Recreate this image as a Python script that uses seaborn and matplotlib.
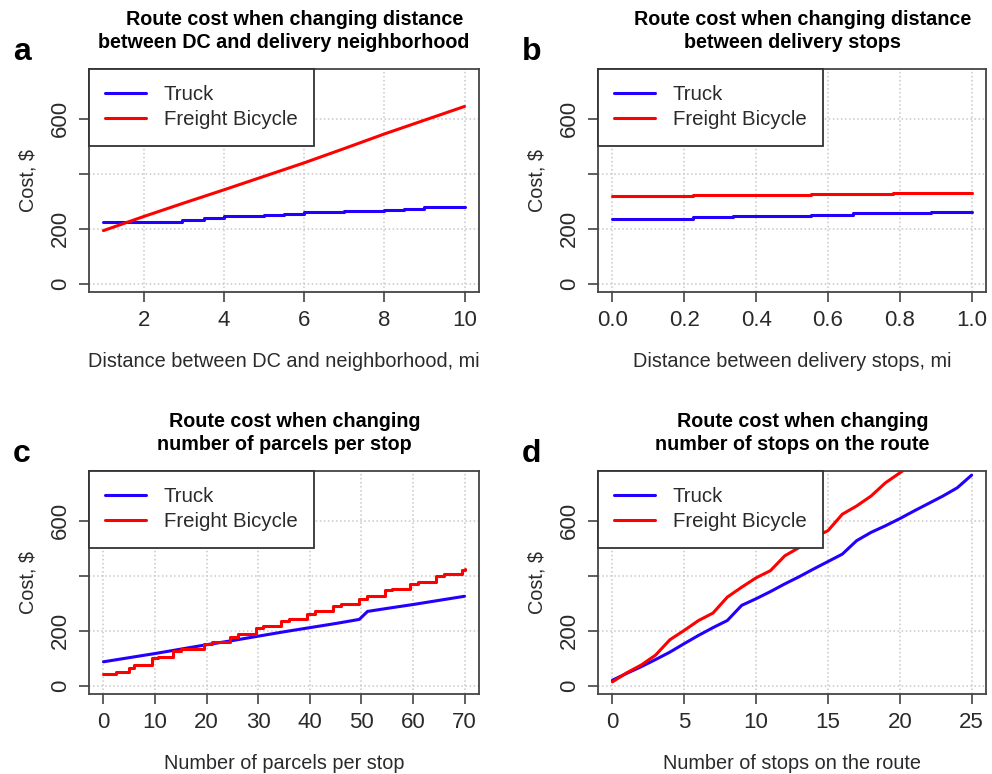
import matplotlib
matplotlib.use('Agg')
import matplotlib.pyplot as plt
import seaborn as sns
import pandas as pd

# a: distance between DC and neighborhood (truck is a staircase)
truck_a_x = [1, 2.97, 3.5, 4.0, 5.0, 5.5, 6.0, 7.0, 8.0, 8.5, 9.0, 10.0]
truck_a_y = [224, 233, 239, 245, 250, 254, 259, 263, 268, 273, 277, 277]
bike_a_x = [1, 2, 3, 4, 5, 6, 7, 8, 9, 10]
bike_a_y = [193, 244, 293, 341, 390, 439, 491, 544, 594, 644]

# b: distance between delivery stops
truck_b_x = [0, 0.224, 0.335, 0.553, 0.669, 0.887, 1.0]
truck_b_y = [235, 241, 247, 251, 256, 259, 259]
bike_b_x = [0, 0.224, 0.553, 0.78, 1.0]
bike_b_y = [318, 324, 327, 331, 331]

# c: number of parcels per stop
truck_c_x = [0, 5, 10, 15, 20, 25, 30, 35, 40, 45, 49.6, 51.2, 55, 60, 65, 70]
truck_c_y = [87, 102, 117, 133, 149, 164, 180, 196, 211, 226, 241, 270, 281, 295, 310, 325]
bike_c_x = [0, 2.5, 5, 6, 9.5, 10.5, 13.5, 15, 19.5, 21, 24.5, 26, 29.5, 31, 34.5,
            36, 39.5, 41, 44.5, 46, 49.5, 51, 54.5, 56, 59.5, 61, 64.5, 66, 69.5, 70]
bike_c_y = [42, 50, 66, 75, 100, 106, 126, 135, 150, 159, 178, 189, 210, 216, 235,
            243, 262, 271, 290, 298, 316, 325, 346, 353, 370, 378, 398, 406, 422, 424]

# d: number of stops on the route
stops = list(range(26))
truck_d = [20, 45, 69, 95, 122, 153, 183, 211, 237, 292, 316, 342, 370, 396, 424,
           451, 478, 527, 557, 581, 607, 635, 662, 689, 719, 765]
bike_stops = list(range(22))
bike_d = [14, 47, 75, 111, 167, 201, 237, 264, 322, 358, 392, 418, 472, 502, 539,
          563, 623, 653, 689, 737, 773, 810]

sns.set_theme(style='white')
plt.rcParams['font.family'] = ['Liberation Sans', 'DejaVu Sans']

TRUCK = '#2200ff'
BIKE = '#ff0000'
TXT = '#2a2a2a'

fig = plt.figure(figsize=(9.92, 7.74), dpi=100)

panels = [
    dict(letter='a', rect=[89, 69, 479, 292],
         title='    Route cost when changing distance\nbetween DC and delivery neighborhood',
         xlabel='Distance between DC and neighborhood, mi',
         xlim=(0.64, 10.36), xticks=[2, 4, 6, 8, 10], xtl=['2', '4', '6', '8', '10'],
         truck=(truck_a_x, truck_a_y, 'steps-post'), bike=(bike_a_x, bike_a_y, 'default')),
    dict(letter='b', rect=[598, 69, 986, 292],
         title='    Route cost when changing distance\nbetween delivery stops',
         xlabel='Distance between delivery stops, mi',
         xlim=(-0.04, 1.04), xticks=[0, 0.2, 0.4, 0.6, 0.8, 1.0],
         xtl=['0.0', '0.2', '0.4', '0.6', '0.8', '1.0'],
         truck=(truck_b_x, truck_b_y, 'steps-post'), bike=(bike_b_x, bike_b_y, 'steps-post')),
    dict(letter='c', rect=[89, 471, 479, 694],
         title='    Route cost when changing\nnumber of parcels per stop',
         xlabel='Number of parcels per stop',
         xlim=(-2.8, 72.8), xticks=list(range(0, 71, 10)),
         xtl=[str(v) for v in range(0, 71, 10)],
         truck=(truck_c_x, truck_c_y, 'default'), bike=(bike_c_x, bike_c_y, 'steps-post')),
    dict(letter='d', rect=[598, 471, 986, 694],
         title='    Route cost when changing\nnumber of stops on the route',
         xlabel='Number of stops on the route',
         xlim=(-1, 26), xticks=[0, 5, 10, 15, 20, 25],
         xtl=['0', '5', '10', '15', '20', '25'],
         truck=(stops, truck_d, 'default'), bike=(bike_stops, bike_d, 'default')),
]

W, H = 992, 774
for p in panels:
    l, t, r, b = p['rect']
    ax = fig.add_axes([l / W, 1 - b / H, (r - l) / W, (b - t) / H])

    tx, ty, tds = p['truck']
    bx, by, bds = p['bike']
    sns.lineplot(x=tx, y=ty, ax=ax, color=TRUCK, lw=2.2, drawstyle=tds,
                 label='Truck', sort=False)
    sns.lineplot(x=bx, y=by, ax=ax, color=BIKE, lw=2.2, drawstyle=bds,
                 label='Freight Bicycle', sort=False)

    ax.set_xlim(*p['xlim'])
    ax.set_ylim(-30, 780)
    ax.set_xticks(p['xticks'])
    ax.set_xticklabels(p['xtl'])
    ax.set_yticks([0, 200, 400, 600])
    ax.set_yticklabels(['0', '200', '', '600'], rotation=90, va='center')
    ax.tick_params(axis='both', direction='out', length=7, width=1.2, color='#444444',
                   labelsize=16, labelcolor=TXT, pad=6, bottom=True, left=True)
    ax.grid(True, linestyle=':', color='#c8c8c8', lw=1.1)
    for s in ax.spines.values():
        s.set_color('#444444')
        s.set_linewidth(1.3)

    ax.set_xlabel(p['xlabel'], fontsize=14.3, color=TXT, labelpad=15)
    ax.set_ylabel('Cost, $', fontsize=14.3, color=TXT, labelpad=9)
    ax.set_title(p['title'], fontsize=14.2, fontweight='bold', color='black', pad=15,
                 linespacing=1.3)

    # opaque legend box sitting in the top-left corner, like R's legend("topleft")
    leg = ax.legend(loc='upper left', borderaxespad=0, fontsize=14.7, frameon=True,
                    fancybox=False, framealpha=1, handlelength=2.0, handletextpad=0.85,
                    borderpad=0.8, labelspacing=0.3)
    leg.get_frame().set_edgecolor('#333333')
    leg.get_frame().set_linewidth(1.3)
    for txt in leg.get_texts():
        txt.set_color(TXT)

    fig.text((l - 76) / W, 1 - (t - 9) / H, p['letter'], fontsize=23,
             fontweight='bold', color='black', ha='left', va='baseline')

fig.savefig('out.png', dpi=100)
